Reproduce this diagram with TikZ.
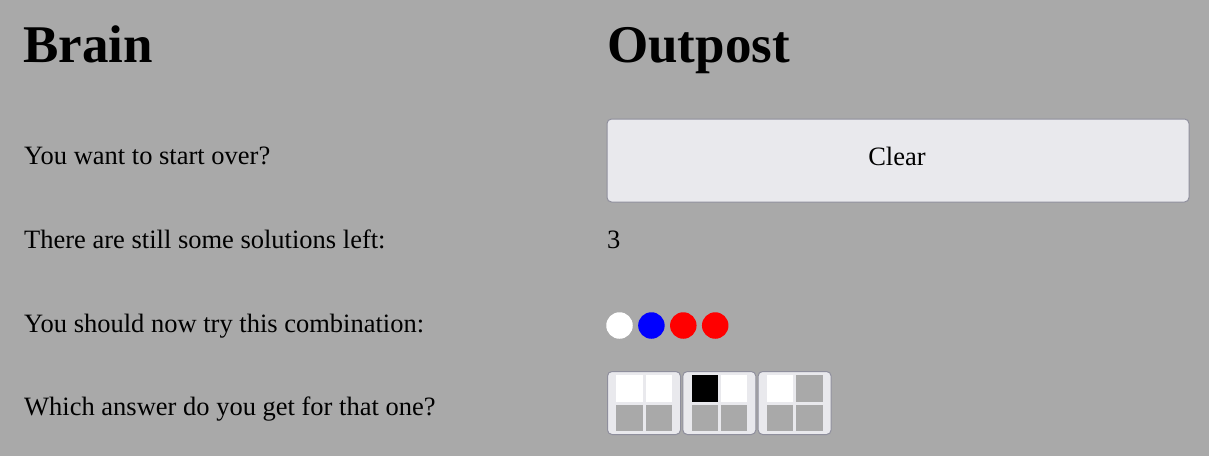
\documentclass[tikz,border=0pt]{standalone}
\usepackage{fontspec}
\setmainfont{Liberation Serif}
\usetikzlibrary{positioning}
\definecolor{pagegray}{RGB}{169,169,169}
\definecolor{buttonface}{RGB}{233,233,237}
\definecolor{buttonedge}{RGB}{143,143,157}
\tikzset{
x=1pt, y=-1pt, % one unit is one pixel of the screen, y runs downwards
heading/.style={anchor=base west, inner sep=0pt, font=\fontsize{53}{58}\selectfont\bfseries}, % the two titles
prompt/.style={anchor=base west, inner sep=0pt, font=\fontsize{26.5}{31}\selectfont}, % every line of text
button/.style={draw=buttonedge, fill=buttonface, line width=1pt, rounded corners=4.5pt, inner sep=0pt},
peg/.style={circle, minimum size=26.5pt, inner sep=0pt}, % one colour of the combination
answer/.style={button, anchor=north west, minimum width=73pt, minimum height=63pt},
cell/.style={minimum size=26.5pt, inner sep=0pt, fill=pagegray}, % one square of an answer
}

\begin{document}
\begin{tikzpicture}
      \fill[pagegray] (0,0) rectangle (1209,456);
      \useasboundingbox (0,0) rectangle (1209,456);

      \node[heading] (brain) at (23,62) {Brain};
      \node[heading] (outpost) at (607,62) {Outpost};

      \node[prompt] (over) at (24,164) {You want to start over?};
      \node[prompt] (left) at (24,248) {There are still some solutions left:};
      \node[prompt] (try) at (24,332) {You should now try this combination:};
      \node[prompt] (ask) at (24,415) {Which answer do you get for that one?};

      \node[button, anchor=north west, minimum width=582pt, minimum height=83pt] (clear) at (606.5,118.5) {};
      \node[prompt, anchor=base] (clearlbl) at (897,165) {Clear};

      \node[prompt] (count) at (607,248) {3};

      \node[peg, fill=white] (peg1) at (619.5,325.5) {};
      \node[peg, fill=blue, right=5pt of peg1] (peg2) {};
      \node[peg, fill=red, right=5pt of peg2] (peg3) {};
      \node[peg, fill=red, right=5pt of peg3] (peg4) {};

      \node[answer] (ans1) at (607,371) {};
      \node[answer, right=1.3pt of ans1] (ans2) {};
      \node[answer, right=1.3pt of ans2] (ans3) {};

      \foreach \ans/\nw/\ne in {ans1/white/white, ans2/black/white, ans3/white/pagegray} {
        \node[cell, fill=\nw] (\ans nw) at ([xshift=-14.5pt, yshift=14.75pt]\ans.center) {};
        \node[cell, fill=\ne] (\ans ne) at ([xshift=14.75pt, yshift=14.75pt]\ans.center) {};
        \node[cell] (\ans sw) at ([xshift=-14.5pt, yshift=-14.75pt]\ans.center) {};
        \node[cell] (\ans se) at ([xshift=14.75pt, yshift=-14.75pt]\ans.center) {};
      }
    \end{tikzpicture}
\end{document}
